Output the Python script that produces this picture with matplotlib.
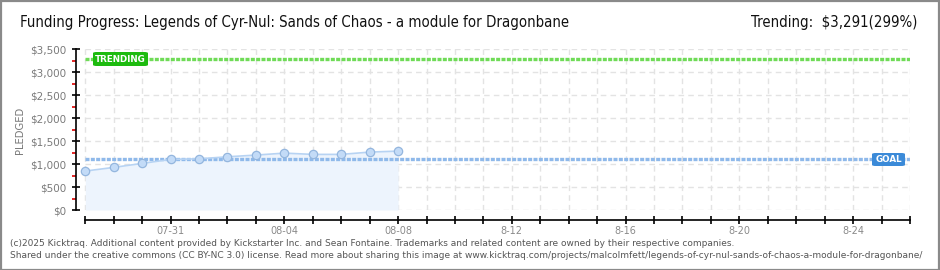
import numpy as np
import pandas as pd
import matplotlib
matplotlib.use("Agg")
import matplotlib.pyplot as plt
import matplotlib.dates as mdates
from matplotlib.patches import FancyBboxPatch, Rectangle

# Data
dates = pd.date_range("2025-07-28", "2025-08-08", freq="D")
pledged = [848, 928, 1015, 1102, 1115, 1159, 1196, 1239, 1211, 1211, 1261, 1283]
goal = 1100
trending = 3291
trending_pct = 299

axis_start = pd.Timestamp("2025-07-28")
axis_end = pd.Timestamp("2025-08-26")
label_dates = pd.to_datetime(["2025-07-31", "2025-08-04", "2025-08-08", "2025-08-12",
                              "2025-08-16", "2025-08-20", "2025-08-24"])
label_text = ["07-31", "08-04", "08-08", "8-12", "8-16", "8-20", "8-24"]
y_ticks = [0, 500, 1000, 1500, 2000, 2500, 3000, 3500]
y_labels = ["$0", "$500", "$1,000", "$1,500", "$2,000", "$2,500", "$3,000", "$3,500"]

title = "Funding Progress: Legends of Cyr-Nul: Sands of Chaos - a module for Dragonbane"
footer1 = ("(c)2025 Kicktraq. Additional content provided by Kickstarter Inc. and Sean Fontaine. "
           "Trademarks and related content are owned by their respective companies.")
footer2 = ("Shared under the creative commons (CC BY-NC 3.0) license. Read more about sharing this image at "
           "www.kicktraq.com/projects/malcolmfett/legends-of-cyr-nul-sands-of-chaos-a-module-for-dragonbane/")

W, H = 940, 270
fig = plt.figure(figsize=(W / 100, H / 100), dpi=100)
fig.patch.set_facecolor("white")

# axes placed in pixel terms
left_px, right_px, top_px, bot_px = 76, 910, 49.3, 210
ax = fig.add_axes([left_px / W, 1 - bot_px / H, (right_px - left_px) / W, (bot_px - top_px) / H])
ax.set_facecolor("white")

day_px = (910 - 85.3) / 29.0
x_left = axis_start - pd.Timedelta(days=(85.3 - 76) / day_px)
ax.set_xlim(x_left, axis_end)
ax.set_ylim(0, 3500)

# grid
all_days = pd.date_range(axis_start, axis_end, freq="D")
for d in all_days:
    ax.axvline(d, color="#e3e3e3", lw=1, dashes=(4, 3), zorder=0)
for v in y_ticks:
    ax.axhline(v, xmin=(85.3 - 76) / (910 - 76), color="#e3e3e3", lw=1, dashes=(4, 3), zorder=0)

# area + line + markers
ax.fill_between(dates, 0, pledged, color="#edf4fd", zorder=1, lw=0)
ax.plot(dates, pledged, color="#b7d3f3", lw=1.2, zorder=3)
ax.plot(dates, pledged, ls="none", marker="o", ms=6, mfc="#c3dbf7", mec="#94b6de", mew=0.9, zorder=4)

# goal and trending lines
ax.plot([axis_start, axis_end], [goal, goal], color="#8fb9ea", lw=2.4, dashes=(1.2, 0.4), zorder=2)
ax.plot([axis_start, axis_end], [trending, trending], color="#6fdb57", lw=2.4, dashes=(1.2, 0.4), zorder=2)

# labels on lines
def tag(x_px, y_px, w_px, h_px, text, color):
    fx, fy = x_px / W, 1 - (y_px + h_px) / H
    box = FancyBboxPatch((fx, fy), w_px / W, h_px / H, transform=fig.transFigure,
                         boxstyle="round,pad=0,rounding_size=0.004", fc=color, ec="none", zorder=10)
    fig.patches.append(box)
    fig.text((x_px + w_px / 2) / W, 1 - (y_px + h_px / 2) / H, text, color="white",
             fontsize=6.3, fontweight="bold", ha="center", va="center", zorder=11)

tag(93, 52, 55, 14, "TRENDING", "#1dbb0f")
tag(872, 153, 33, 13, "GOAL", "#3b8ad8")

# spines
for s in ["top", "right"]:
    ax.spines[s].set_visible(False)
ax.spines["left"].set_bounds(0, 3500)
ax.spines["left"].set_linewidth(1.2)
ax.spines["bottom"].set_position(("outward", 7.2))
ax.spines["bottom"].set_bounds(mdates.date2num(axis_start), mdates.date2num(axis_end))
ax.spines["bottom"].set_linewidth(1.2)

# ticks
ax.set_yticks(y_ticks)
ax.set_yticklabels(y_labels)
ax.set_yticks(np.arange(250, 3500, 500), minor=True)
ax.tick_params(axis="y", which="major", direction="inout", length=6, width=1.2,
               labelsize=7.5, labelcolor="#7a7a7a", pad=4)
ax.tick_params(axis="y", which="minor", direction="out", length=3, width=1.2, color="#dd0000")

ax.set_xticks(label_dates)
ax.set_xticklabels(label_text)
ax.set_xticks(all_days, minor=True)
ax.tick_params(axis="x", which="both", direction="inout", length=6, width=1.2,
               labelsize=7, labelcolor="#8a8a8a", pad=1)

fig.text(20 / W, 1 - 130 / H, "PLEDGED", rotation=90, fontsize=7.2, color="#777777",
         ha="center", va="center")

# header text
fig.text(20 / W, 1 - 22 / H, title, fontsize=10.7, color="#111111", ha="left", va="center",
         fontstretch="condensed")
fig.text(917 / W, 1 - 22 / H, "Trending:  ${:,}({}%)".format(trending, trending_pct),
         fontsize=10.7, color="#111111", ha="right", va="center", fontstretch="condensed")

# footer
fig.text(10 / W, 1 - 243 / H, footer1, fontsize=6.47, color="#555555", ha="left", va="center")
fig.text(10 / W, 1 - 256 / H, footer2, fontsize=6.47, color="#555555", ha="left", va="center")

# outer border
fig.patches.append(Rectangle((0.5 / W, 0.5 / H), 1 - 1.5 / W, 1 - 1.5 / H, transform=fig.transFigure,
                             fill=False, ec="#8a8a8a", lw=1.6, zorder=20))

fig.savefig("out.png", dpi=100)
